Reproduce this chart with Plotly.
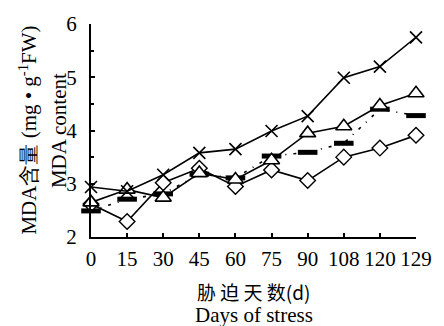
import plotly.graph_objects as go

days = ["0", "15", "30", "45", "60", "75", "90", "108", "120", "129"]
cross_vals = [2.94, 2.86, 3.17, 3.58, 3.65, 3.99, 4.27, 4.99, 5.20, 5.75]
tri_vals = [2.65, 2.89, 2.74, 3.20, 3.08, 3.44, 3.95, 4.08, 4.47, 4.70]
dia_vals = [2.62, 2.29, 3.02, 3.29, 2.95, 3.26, 3.06, 3.50, 3.67, 3.91]
sq_vals = [2.49, 2.71, 2.81, 3.18, 3.11, 3.52, 3.59, 3.76, 4.40, 4.28]
y_ticks = [2, 3, 4, 5, 6]

fig = go.Figure()
fig.add_trace(go.Scatter(x=days, y=sq_vals, mode="lines+markers",
    line=dict(color="black", width=1.6, dash="3px,7px,1px,7px"),
    marker=dict(symbol="line-ew", size=14, line=dict(color="black", width=5)),
    cliponaxis=False))
fig.add_trace(go.Scatter(x=days, y=dia_vals, mode="lines+markers",
    line=dict(color="black", width=1.6),
    marker=dict(symbol="diamond", size=12, color="white", line=dict(color="black", width=1.4)),
    cliponaxis=False))
fig.add_trace(go.Scatter(x=days, y=tri_vals, mode="lines+markers",
    line=dict(color="black", width=1.6),
    marker=dict(symbol="triangle-up", size=14, color="white", line=dict(color="black", width=1.6)),
    cliponaxis=False))
fig.add_trace(go.Scatter(x=days, y=cross_vals, mode="lines+markers",
    line=dict(color="black", width=1.6),
    marker=dict(symbol="x-thin-open", size=12, color="black", line=dict(color="black", width=1.6)),
    cliponaxis=False))

font = "Liberation Serif"
fig.update_layout(
    width=444, height=326,
    margin=dict(l=91, r=12, t=17, b=89),
    paper_bgcolor="white", plot_bgcolor="white",
    showlegend=False,
    font=dict(family=font, size=21, color="black"),
)
fig.update_xaxes(type="category", range=[0, 9], showline=True, linecolor="black", linewidth=2,
    ticks="inside", ticklen=4, tickwidth=1.5, tickcolor="black", showgrid=False, zeroline=False,
    tickfont=dict(family=font, size=21), ticklabelstandoff=2)
fig.update_yaxes(range=[2, 6], tickvals=y_ticks, showline=True, linecolor="black", linewidth=2,
    ticks="inside", ticklen=4, tickwidth=1.5, tickcolor="black", showgrid=False, zeroline=False,
    minor=dict(dtick=0.5, ticks="inside", ticklen=3, tickcolor="black"),
    tickfont=dict(family=font, size=21), ticklabelstandoff=8)

fig.add_annotation(text="胁 迫 天 数(d)", x=0.5, y=-0.255, xref="paper", yref="paper",
    showarrow=False, font=dict(family="Noto Sans CJK SC", size=19), xanchor="center", yanchor="middle")
fig.add_annotation(text="Days of stress", x=0.5, y=-0.365, xref="paper", yref="paper",
    showarrow=False, font=dict(family=font, size=21), xanchor="center", yanchor="middle")
fig.add_annotation(text="MDA含量 (mg • g<sup>-1</sup>FW)", x=-(91-25)/341, y=0.5, xref="paper", yref="paper",
    showarrow=False, textangle=-90, font=dict(family=font, size=21), xanchor="center", yanchor="middle")
fig.add_annotation(text="MDA content", x=-(91-57)/341, y=0.5, xref="paper", yref="paper",
    showarrow=False, textangle=-90, font=dict(family=font, size=21), xanchor="center", yanchor="middle")

fig.write_html("out.html")
